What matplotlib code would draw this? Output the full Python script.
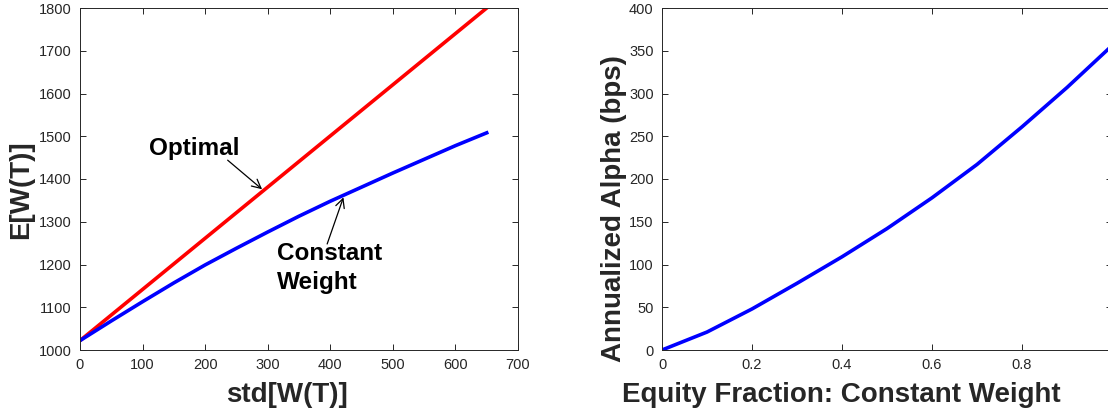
import matplotlib
matplotlib.use('Agg')
import matplotlib.pyplot as plt

# 左图：有效前沿 E[W(T)] vs std[W(T)]
std_opt = [0, 650]
mean_opt = [1022, 1800]
std_cw = [0, 50, 100, 150, 200, 250, 300, 350, 400, 450, 500, 550, 600, 650]
mean_cw = [1022, 1068, 1113, 1157, 1199, 1238, 1276, 1313, 1348, 1381, 1414, 1446, 1478, 1508]

# 右图：年化 alpha vs 股票比例
frac = [0, 0.1, 0.2, 0.3, 0.4, 0.5, 0.6, 0.7, 0.8, 0.9, 1.0]
alpha_bps = [0, 21, 48, 78, 109, 142, 178, 217, 261, 307, 356]

plt.rcParams['font.family'] = ['Liberation Sans', 'DejaVu Sans']
txt_col = '#262626'

fig = plt.figure(figsize=(11.08, 4.13), dpi=100)
ax1 = fig.add_axes([80 / 1108, 63 / 413, 438 / 1108, 342 / 413])
ax2 = fig.add_axes([662 / 1108, 63 / 413, 450 / 1108, 342 / 413])

ax1.plot(std_opt, mean_opt, color='#ff0000', lw=2.6)
ax1.plot(std_cw, mean_cw, color='#0000ff', lw=2.6)
ax1.set_xlim(0, 700)
ax1.set_ylim(1000, 1800)
ax1.set_xticks(range(0, 701, 100))
ax1.set_yticks(range(1000, 1801, 100))
ax1.set_xlabel('std[W(T)]', fontsize=20, fontweight='bold', color=txt_col)
ax1.set_ylabel('E[W(T)]', fontsize=20, fontweight='bold', color=txt_col)
ax1.xaxis.set_label_coords(0.473, -0.095)
ax1.yaxis.set_label_coords(-0.104, 0.468)

# 标注文字与箭头
ax1.text(182, 1472, 'Optimal', fontsize=17.5, fontweight='bold', ha='center', va='center')
ax1.annotate('', xy=(291, 1376), xytext=(236, 1444),
             arrowprops=dict(arrowstyle='->', color='black', lw=0.9, shrinkA=0, shrinkB=0,
                             mutation_scale=16))
ax1.text(315, 1192, 'Constant\nWeight', fontsize=17.5, fontweight='bold', ha='left',
         va='center', linespacing=1.3)
ax1.annotate('', xy=(421, 1357), xytext=(395, 1248),
             arrowprops=dict(arrowstyle='->', color='black', lw=0.9, shrinkA=0, shrinkB=0,
                             mutation_scale=16))

ax2.plot(frac, alpha_bps, color='#0000ff', lw=2.6)
ax2.set_xlim(0, 1)
ax2.set_ylim(0, 400)
ax2.set_xticks([0, 0.2, 0.4, 0.6, 0.8, 1])
ax2.set_xticklabels(['0', '0.2', '0.4', '0.6', '0.8', '1'])
ax2.set_yticks(range(0, 401, 50))
ax2.set_xlabel('Equity Fraction: Constant Weight', fontsize=20, fontweight='bold',
               color=txt_col)
ax2.set_ylabel('Annualized Alpha (bps)', fontsize=20, fontweight='bold', color=txt_col)
ax2.xaxis.set_label_coords(0.398, -0.095)
ax2.yaxis.set_label_coords(-0.078, 0.415)

for ax in (ax1, ax2):
    ax.tick_params(direction='in', top=True, right=True, length=4.5, width=0.7,
                   labelsize=10.5, colors=txt_col, pad=6)
    for s in ax.spines.values():
        s.set_color(txt_col)
        s.set_linewidth(0.7)

fig.savefig('out.png', dpi=100)
